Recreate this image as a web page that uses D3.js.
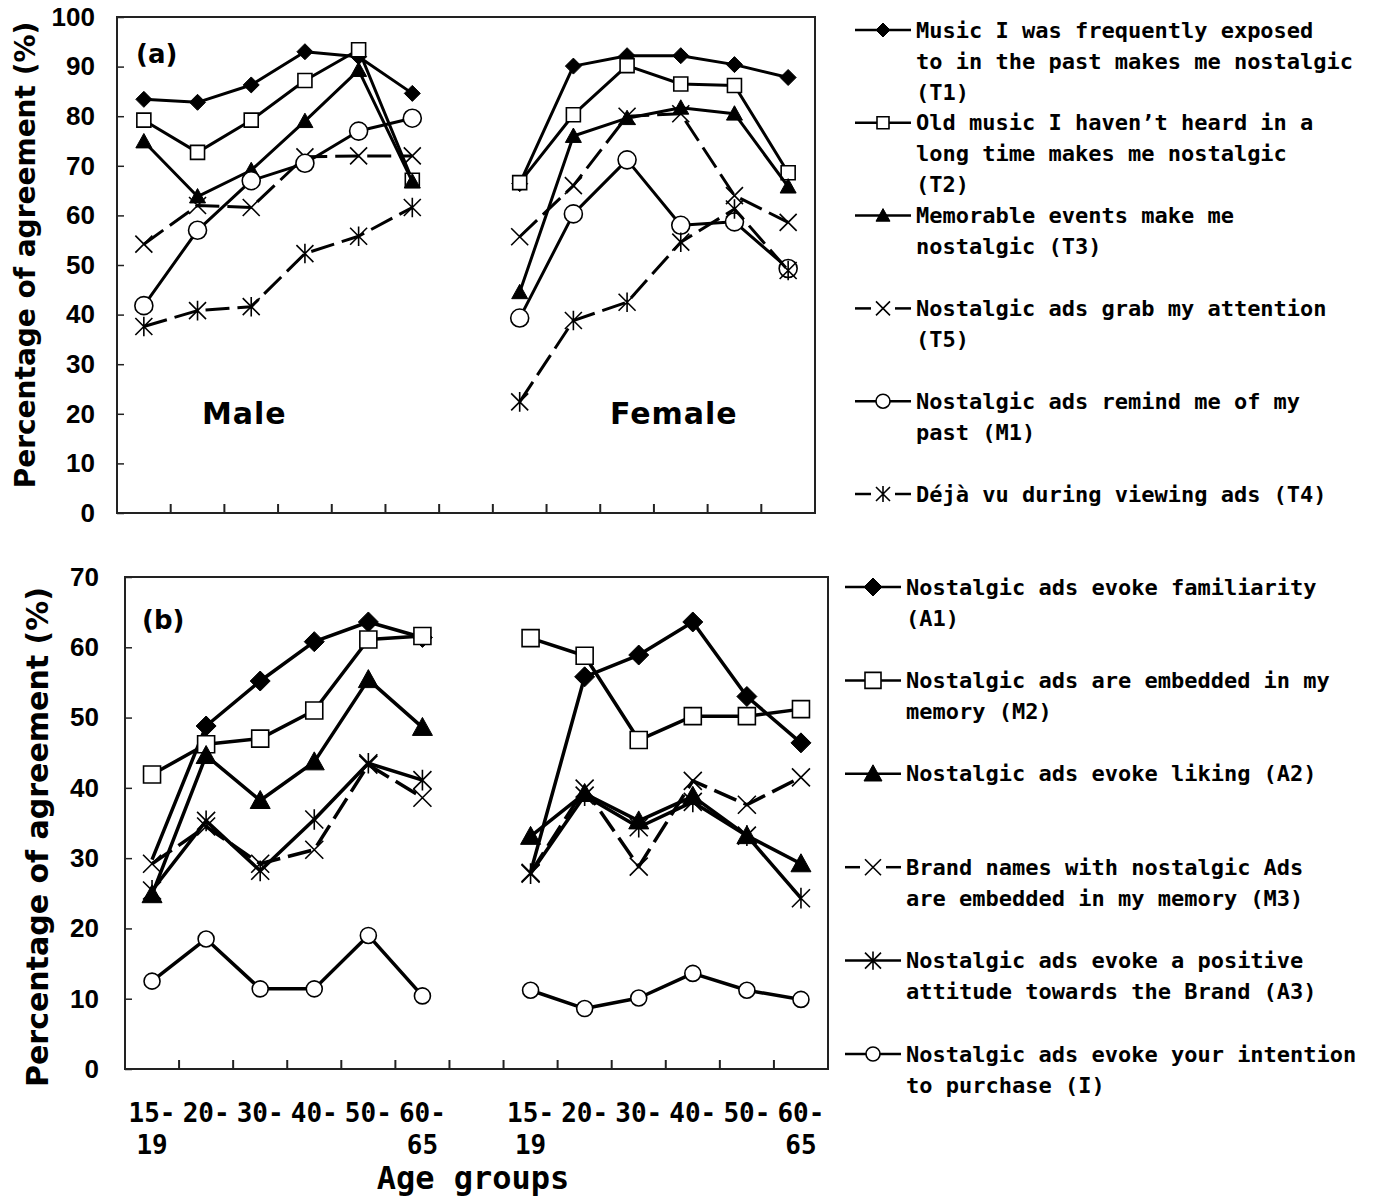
<!DOCTYPE html>
<html>
<head>
<meta charset="utf-8">
<script src="https://cdn.jsdelivr.net/npm/d3@7"></script>
<style>
  body { margin: 0; background: #fff; }
  svg { display: block; }
</style>
</head>
<body>
<div id="viz"></div>
<script>
// ---- data ----
const ageGroups = ["15-19", "20-", "30-", "40-", "50-", "60-65"];

// (a) nostalgia triggers, % agreement
const t1Male = [83.4, 82.8, 86.3, 93.0, 92.0, 84.6];
const t1Female = [66.4, 90.1, 92.2, 92.2, 90.4, 87.8];
const t2Male = [79.2, 72.7, 79.2, 87.2, 93.4, 67.1];
const t2Female = [66.6, 80.3, 90.2, 86.5, 86.2, 68.6];
const t3Male = [74.9, 63.8, 69.1, 79.0, 89.3, 66.8];
const t3Female = [44.5, 76.0, 79.6, 81.7, 80.5, 65.8];
const t5Male = [54.2, 62.0, 61.6, 71.8, 72.0, 72.0];
const t5Female = [55.7, 66.0, 80.0, 80.5, 64.0, 58.6];
const m1Male = [41.8, 57.0, 67.0, 70.5, 77.0, 79.6];
const m1Female = [39.3, 60.3, 71.2, 58.0, 58.7, 49.3];
const t4Male = [37.6, 40.8, 41.6, 52.3, 55.8, 61.6];
const t4Female = [22.4, 38.8, 42.5, 54.6, 61.3, 48.9];

// (b) responses to nostalgic ads, % agreement
const a1Male = [29.8, 48.8, 55.2, 60.8, 63.6, 61.4];
const a1Female = [28.0, 55.8, 58.9, 63.6, 53.0, 46.4];
const m2Male = [41.9, 46.2, 47.0, 51.0, 61.1, 61.6];
const m2Female = [61.3, 58.8, 46.8, 50.2, 50.2, 51.2];
const a2Male = [24.8, 44.6, 38.2, 43.7, 55.4, 48.6];
const a2Female = [33.1, 39.2, 35.3, 38.8, 33.2, 29.2];
const m3Male = [29.2, 34.5, 29.2, 31.2, 43.3, 38.6];
const m3Female = [27.9, 39.9, 28.8, 41.0, 37.6, 41.5];
const a3Male = [25.4, 35.3, 28.2, 35.5, 43.5, 41.1];
const a3Female = [27.8, 38.9, 34.4, 38.0, 33.2, 24.3];
const iMale = [12.5, 18.5, 11.4, 11.4, 19.0, 10.4];
const iFemale = [11.2, 8.6, 10.1, 13.6, 11.2, 9.9];

const yTicksA = [0, 10, 20, 30, 40, 50, 60, 70, 80, 90, 100];
const yTicksB = [0, 10, 20, 30, 40, 50, 60, 70];

const legendA = [
  ["Music I was frequently exposed", "to in the past makes me nostalgic", "(T1)"],
  ["Old music I haven\u2019t heard in a", "long time makes me nostalgic", "(T2)"],
  ["Memorable events make me", "nostalgic (T3)"],
  ["Nostalgic ads grab my attention", "(T5)"],
  ["Nostalgic ads remind me of my", "past (M1)"],
  ["D\u00e9j\u00e0 vu during viewing ads (T4)"]
];
const legendB = [
  ["Nostalgic ads evoke familiarity", "(A1)"],
  ["Nostalgic ads are embedded in my", "memory (M2)"],
  ["Nostalgic ads evoke liking (A2)"],
  ["Brand names with nostalgic Ads", "are embedded in my memory (M3)"],
  ["Nostalgic ads evoke a positive", "attitude towards the Brand (A3)"],
  ["Nostalgic ads evoke your intention", "to purchase (I)"]
];

// ---- setup ----
const W = 1386, H = 1198;
const svg = d3.select("#viz").append("svg").attr("width", W).attr("height", H);

// 13 slots: six male groups, an empty one, six female groups
const slots = [...ageGroups.map(a => "M " + a), "gap", ...ageGroups.map(a => "F " + a)];

const MONO = "'DejaVu Sans Mono', monospace";
const SANS = "'DejaVu Sans', sans-serif";

function markerPath(type, s) {
  switch (type) {
    case "diamond": return `M0,${-s}L${s},0L0,${s}L${-s},0Z`;
    case "square": return `M${-s},${-s}H${s}V${s}H${-s}Z`;
    case "triangle": return `M0,${-s}L${s},${s * 0.8}L${-s},${s * 0.8}Z`;
    case "cross": return `M${-s},${-s}L${s},${s}M${-s},${s}L${s},${-s}`;
    case "asterisk": return `M${-s},${-s}L${s},${s}M${-s},${s}L${s},${-s}M0,${-s * 1.15}L0,${s * 1.15}`;
    case "circle": return d3.arc()({ innerRadius: 0, outerRadius: s, startAngle: 0, endAngle: 2 * Math.PI });
  }
}

function drawMarker(g, type, s, cx, cy) {
  const filled = type === "diamond" || type === "triangle";
  const open = type === "square" || type === "circle";
  g.append("path")
    .attr("d", markerPath(type, s))
    .attr("transform", `translate(${cx},${cy})`)
    .attr("fill", filled ? "#000" : open ? "#fff" : "none")
    .attr("stroke", "#000")
    .attr("stroke-width", filled ? 1 : 1.6);
}

function drawPanel(p) {
  const x = d3.scaleBand().domain(slots).range([p.left, p.right]);
  const y = d3.scaleLinear().domain([0, p.max]).range([p.bottom, p.top]);
  const bw = x.bandwidth();
  const g = svg.append("g");

  // y axis, ticks pointing inward
  const yAxis = g.append("g")
    .attr("transform", `translate(${p.left},0)`)
    .call(d3.axisLeft(y).tickValues(p.ticks).tickSize(-7).tickPadding(p.tickPad));
  yAxis.select(".domain").remove();
  yAxis.selectAll("line").attr("stroke", "#222").attr("stroke-width", 1.5);
  yAxis.selectAll("text")
    .attr("font-family", "'Liberation Sans', Arial, sans-serif")
    .attr("font-weight", "bold")
    .attr("font-size", 26)
    .attr("fill", "#000");

  // x ticks at the slot boundaries, inward
  const xAxis = g.append("g")
    .attr("transform", `translate(${-bw / 2},${p.bottom})`)
    .call(d3.axisBottom(x).tickSize(-9).tickFormat(""));
  xAxis.select(".domain").remove();
  xAxis.selectAll("line").attr("stroke", "#222").attr("stroke-width", 2);

  // plot box
  g.append("rect")
    .attr("x", p.left).attr("y", p.top)
    .attr("width", p.right - p.left).attr("height", p.bottom - p.top)
    .attr("fill", "none").attr("stroke", "#222").attr("stroke-width", 2);

  const line = d3.line().x(d => x(d.key) + bw / 2).y(d => y(d.v));

  p.series.forEach(s => {
    [["M ", s.male], ["F ", s.female]].forEach(([pre, vals]) => {
      const pts = vals.map((v, i) => ({ key: pre + ageGroups[i], v, i }));
      g.append("path")
        .datum(pts)
        .attr("d", line)
        .attr("fill", "none")
        .attr("stroke", "#000")
        .attr("stroke-width", p.lineWidth)
        .attr("stroke-linejoin", "round")
        .attr("stroke-dasharray", s.dashed ? "24,8" : null);
      pts.filter(d => !(s.noFirstMarker && d.i === 0))
        .forEach(d => drawMarker(g, s.marker, p.markerSize[s.marker], x(d.key) + bw / 2, y(d.v)));
    });
  });

  // y title
  g.append("text")
    .attr("transform", `translate(${p.titleX},${(p.top + p.bottom) / 2 + p.titleDy}) rotate(-90)`)
    .attr("text-anchor", "middle")
    .attr("dominant-baseline", "central")
    .attr("font-family", SANS)
    .attr("font-weight", "bold")
    .attr("font-size", p.titleSize)
    .text("Percentage of agreement (%)");

  // legend
  p.series.forEach((s, i) => {
    const ly = p.legY + i * p.legStep;
    const lg = g.append("g");
    const lx0 = p.legX, lx1 = p.legX + 56, mx = (lx0 + lx1) / 2;
    if (s.dashed) {
      const ms = p.legMarker[s.marker];
      lg.append("line").attr("x1", lx0).attr("x2", mx - ms - 5).attr("y1", ly).attr("y2", ly)
        .attr("stroke", "#000").attr("stroke-width", 2.5);
      lg.append("line").attr("x1", mx + ms + 5).attr("x2", lx1).attr("y1", ly).attr("y2", ly)
        .attr("stroke", "#000").attr("stroke-width", 2.5);
    } else {
      lg.append("line").attr("x1", lx0).attr("x2", lx1).attr("y1", ly).attr("y2", ly)
        .attr("stroke", "#000").attr("stroke-width", 2.5);
    }
    drawMarker(lg, s.marker, p.legMarker[s.marker], mx, ly);
    s.label.forEach((t, j) => {
      lg.append("text")
        .attr("x", lx1 + 5)
        .attr("y", ly + j * 31)
        .attr("dominant-baseline", "central")
        .attr("font-family", MONO)
        .attr("font-weight", "bold")
        .attr("font-size", 22)
        .text(t);
    });
  });

  return { x, y, g, bw };
}

const panelA = drawPanel({
  left: 117, right: 815, top: 17, bottom: 513, max: 100, ticks: yTicksA, tickPad: 22,
  lineWidth: 3,
  markerSize: { diamond: 8, square: 7, triangle: 8, cross: 8.5, asterisk: 8.5, circle: 9 },
  legMarker: { diamond: 7, square: 6, triangle: 7, cross: 7, asterisk: 7, circle: 7 },
  titleX: 25, titleDy: -10, titleSize: 28,
  legX: 855, legY: 30, legStep: 92.8,
  series: [
    { male: t1Male, female: t1Female, marker: "diamond", dashed: false, label: legendA[0] },
    { male: t2Male, female: t2Female, marker: "square", dashed: false, label: legendA[1] },
    { male: t3Male, female: t3Female, marker: "triangle", dashed: false, label: legendA[2] },
    { male: t5Male, female: t5Female, marker: "cross", dashed: true, label: legendA[3] },
    { male: m1Male, female: m1Female, marker: "circle", dashed: false, label: legendA[4] },
    { male: t4Male, female: t4Female, marker: "asterisk", dashed: true, label: legendA[5] }
  ]
});

const panelB = drawPanel({
  left: 125, right: 828, top: 577, bottom: 1069, max: 70, ticks: yTicksB, tickPad: 26,
  lineWidth: 3.5,
  markerSize: { diamond: 10, square: 8.5, triangle: 10, cross: 9, asterisk: 9, circle: 8 },
  legMarker: { diamond: 9, square: 8, triangle: 9, cross: 8, asterisk: 8, circle: 7 },
  titleX: 37, titleDy: 14, titleSize: 30,
  legX: 845, legY: 587, legStep: 93.4,
  series: [
    { male: a1Male, female: a1Female, marker: "diamond", dashed: false, noFirstMarker: true, label: legendB[0] },
    { male: m2Male, female: m2Female, marker: "square", dashed: false, label: legendB[1] },
    { male: a2Male, female: a2Female, marker: "triangle", dashed: false, label: legendB[2] },
    { male: m3Male, female: m3Female, marker: "cross", dashed: true, label: legendB[3] },
    { male: a3Male, female: a3Female, marker: "asterisk", dashed: false, label: legendB[4] },
    { male: iMale, female: iFemale, marker: "circle", dashed: false, label: legendB[5] }
  ]
});

// panel tags and gender labels
panelA.g.append("text").attr("x", 136).attr("y", 54).attr("dominant-baseline", "central")
  .attr("font-family", SANS).attr("font-weight", "bold").attr("font-size", 26).text("(a)");
panelB.g.append("text").attr("x", 142).attr("y", 620).attr("dominant-baseline", "central")
  .attr("font-family", SANS).attr("font-weight", "bold").attr("font-size", 26).text("(b)");

const genderLabels = [["Male", "M 30-"], ["Female", "F 40-"]];
genderLabels.forEach(([t, key]) => {
  panelA.g.append("text")
    .attr("x", panelA.x(key) + panelA.bw * 0.37)
    .attr("y", panelA.y(20))
    .attr("text-anchor", "middle")
    .attr("dominant-baseline", "central")
    .attr("font-family", SANS)
    .attr("font-weight", "bold")
    .attr("font-size", 30)
    .attr("letter-spacing", 1)
    .text(t);
});

// category labels under panel (b), wrapped after the hyphen
const xl = panelB.g.append("g");
slots.filter(k => k !== "gap").forEach(k => {
  const lines = k.slice(2).split(/(?<=-)/);
  lines.forEach((t, j) => {
    xl.append("text")
      .attr("x", panelB.x(k) + panelB.bw / 2)
      .attr("y", 1113 + j * 32)
      .attr("text-anchor", "middle")
      .attr("dominant-baseline", "central")
      .attr("font-family", MONO)
      .attr("font-weight", "bold")
      .attr("font-size", 26)
      .text(t);
  });
});
xl.append("text")
  .attr("x", 473).attr("y", 1178)
  .attr("text-anchor", "middle").attr("dominant-baseline", "central")
  .attr("font-family", MONO).attr("font-weight", "bold").attr("font-size", 32)
  .text("Age groups");
</script>
</body>
</html>
